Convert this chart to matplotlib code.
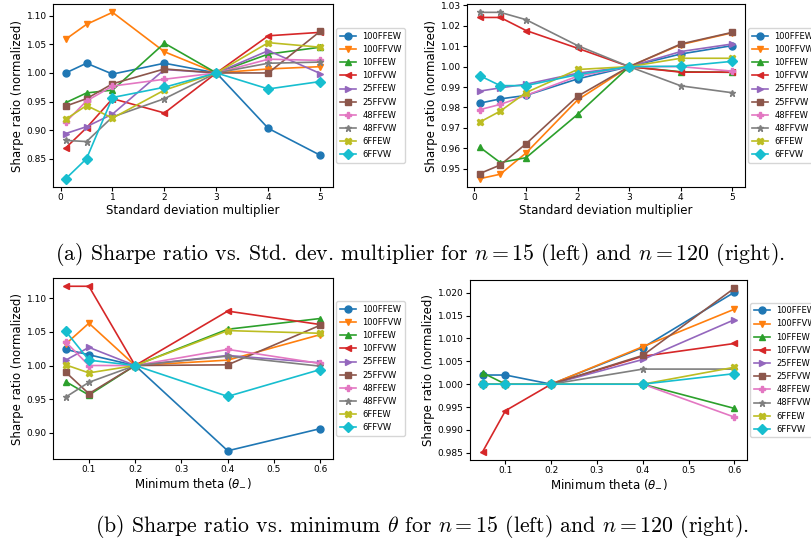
import matplotlib
matplotlib.use("Agg")
import matplotlib.pyplot as plt

# series names / markers
names = ["100FFEW", "100FFVW", "10FFEW", "10FFVW", "25FFEW",
         "25FFVW", "48FFEW", "48FFVW", "6FFEW", "6FFVW"]
markers = ["o", "v", "^", "<", ">", "s", "P", "*", "X", "D"]

# (a) std. dev. multiplier
std_mult = [0.1, 0.5, 1, 2, 3, 4, 5]

std_n15 = [
    [1.000, 1.017, 0.998, 1.017, 1.000, 0.903, 0.856],   # 100FFEW
    [1.059, 1.085, 1.106, 1.037, 1.000, 1.007, 1.011],   # 100FFVW
    [0.948, 0.965, 0.970, 1.052, 1.000, 1.033, 1.045],   # 10FFEW
    [0.869, 0.904, 0.955, 0.930, 1.000, 1.065, 1.071],   # 10FFVW
    [0.894, 0.906, 0.928, 1.006, 1.000, 1.039, 0.999],   # 25FFEW
    [0.942, 0.955, 0.981, 1.007, 1.000, 1.000, 1.073],   # 25FFVW
    [0.914, 0.951, 0.977, 0.989, 1.000, 1.024, 1.022],   # 48FFEW
    [0.882, 0.880, 0.923, 0.955, 1.000, 1.017, 1.019],   # 48FFVW
    [0.919, 0.943, 0.921, 0.970, 1.000, 1.053, 1.045],   # 6FFEW
    [0.815, 0.850, 0.957, 0.975, 1.000, 0.972, 0.985],   # 6FFVW
]

std_n120 = [
    [0.9821, 0.9842, 0.9859, 0.9940, 1.0, 1.0062, 1.0103],
    [0.9451, 0.9473, 0.9577, 0.9837, 1.0, 1.0108, 1.0166],
    [0.9606, 0.9530, 0.9554, 0.9766, 1.0, 0.9975, 0.9972],
    [1.0241, 1.0241, 1.0177, 1.0090, 1.0, 0.9973, 0.9973],
    [0.9880, 0.9896, 0.9914, 0.9968, 1.0, 1.0074, 1.0111],
    [0.9476, 0.9518, 0.9622, 0.9855, 1.0, 1.0111, 1.0168],
    [0.9789, 0.9815, 0.9859, 0.9953, 1.0, 1.0000, 0.9978],
    [1.0266, 1.0266, 1.0230, 1.0103, 1.0, 0.9906, 0.9872],
    [0.9728, 0.9782, 0.9873, 0.9986, 1.0, 1.0041, 1.0041],
    [0.9956, 0.9907, 0.9907, 0.9961, 1.0, 1.0002, 1.0026],
]

# (b) minimum theta
min_theta = [0.05, 0.1, 0.2, 0.4, 0.6]

theta_n15 = [
    [1.024, 1.016, 1.0, 0.873, 0.906],
    [1.032, 1.063, 1.0, 1.008, 1.046],
    [0.976, 0.956, 1.0, 1.054, 1.070],
    [1.118, 1.118, 1.0, 1.081, 1.061],
    [1.008, 1.027, 1.0, 1.015, 1.004],
    [0.990, 0.958, 1.0, 1.001, 1.060],
    [1.035, 1.000, 1.0, 1.024, 1.003],
    [0.953, 0.975, 1.0, 1.014, 0.999],
    [1.001, 0.989, 1.0, 1.052, 1.048],
    [1.051, 1.008, 1.0, 0.954, 0.994],
]

theta_n120 = [
    [1.0020, 1.0020, 1.0, 1.0080, 1.0201],
    [1.0000, 1.0000, 1.0, 1.0082, 1.0164],
    [1.0025, 1.0000, 1.0, 1.0000, 0.9947],
    [0.9852, 0.9942, 1.0, 1.0061, 1.0089],
    [1.0000, 1.0000, 1.0, 1.0054, 1.0141],
    [1.0000, 1.0000, 1.0, 1.0063, 1.0210],
    [1.0000, 1.0000, 1.0, 1.0000, 0.9928],
    [1.0000, 1.0000, 1.0, 1.0033, 1.0033],
    [1.0000, 1.0000, 1.0, 1.0000, 1.0037],
    [1.0000, 1.0000, 1.0, 1.0000, 1.0023],
]

plt.rcParams['mathtext.fontset'] = 'dejavusans'

fig = plt.figure(figsize=(8.12, 5.44), dpi=100)

def panel(rect, x, data, xlabel):
    ax = fig.add_axes(rect)
    for i, name in enumerate(names):
        ax.plot(x, data[i], marker=markers[i], label=name,
                color="C%d" % i, linewidth=1.2, markersize=5)
    ax.set_xlabel(xlabel, fontsize=8.5, labelpad=1)
    ax.set_ylabel("Sharpe ratio (normalized)", fontsize=8.5, labelpad=2)
    ax.tick_params(labelsize=6.5, length=3, pad=1.5)
    ax.legend(loc="center left", bbox_to_anchor=(1.0, 0.5),
              fontsize=6, handlelength=2.0, handletextpad=0.7,
              labelspacing=0.5, borderpad=0.4, borderaxespad=0.4)
    return ax

panel([0.0653, 0.6562, 0.3448, 0.3364], std_mult, std_n15,
      "Standard deviation multiplier")
panel([0.5751, 0.6562, 0.3424, 0.3364], std_mult, std_n120,
      "Standard deviation multiplier")
panel([0.0653, 0.1562, 0.3448, 0.3327], min_theta, theta_n15,
      r"Minimum theta ($\theta_{-}$)")
panel([0.5788, 0.1544, 0.3411, 0.3309], min_theta, theta_n120,
      r"Minimum theta ($\theta_{-}$)")

cap_kw = dict(ha="center", va="center", fontsize=15.7, family="cmr10",
              math_fontfamily="cm")
fig.text(0.517, 1 - 255 / 544,
         r"(a) Sharpe ratio vs. Std. dev. multiplier for $n=15$ (left) and $n=120$ (right).",
         **cap_kw)
fig.text(0.520, 1 - 527 / 544,
         r"(b) Sharpe ratio vs. minimum $\theta$ for $n=15$ (left) and $n=120$ (right).",
         **cap_kw)

fig.savefig("out.png", dpi=100)
